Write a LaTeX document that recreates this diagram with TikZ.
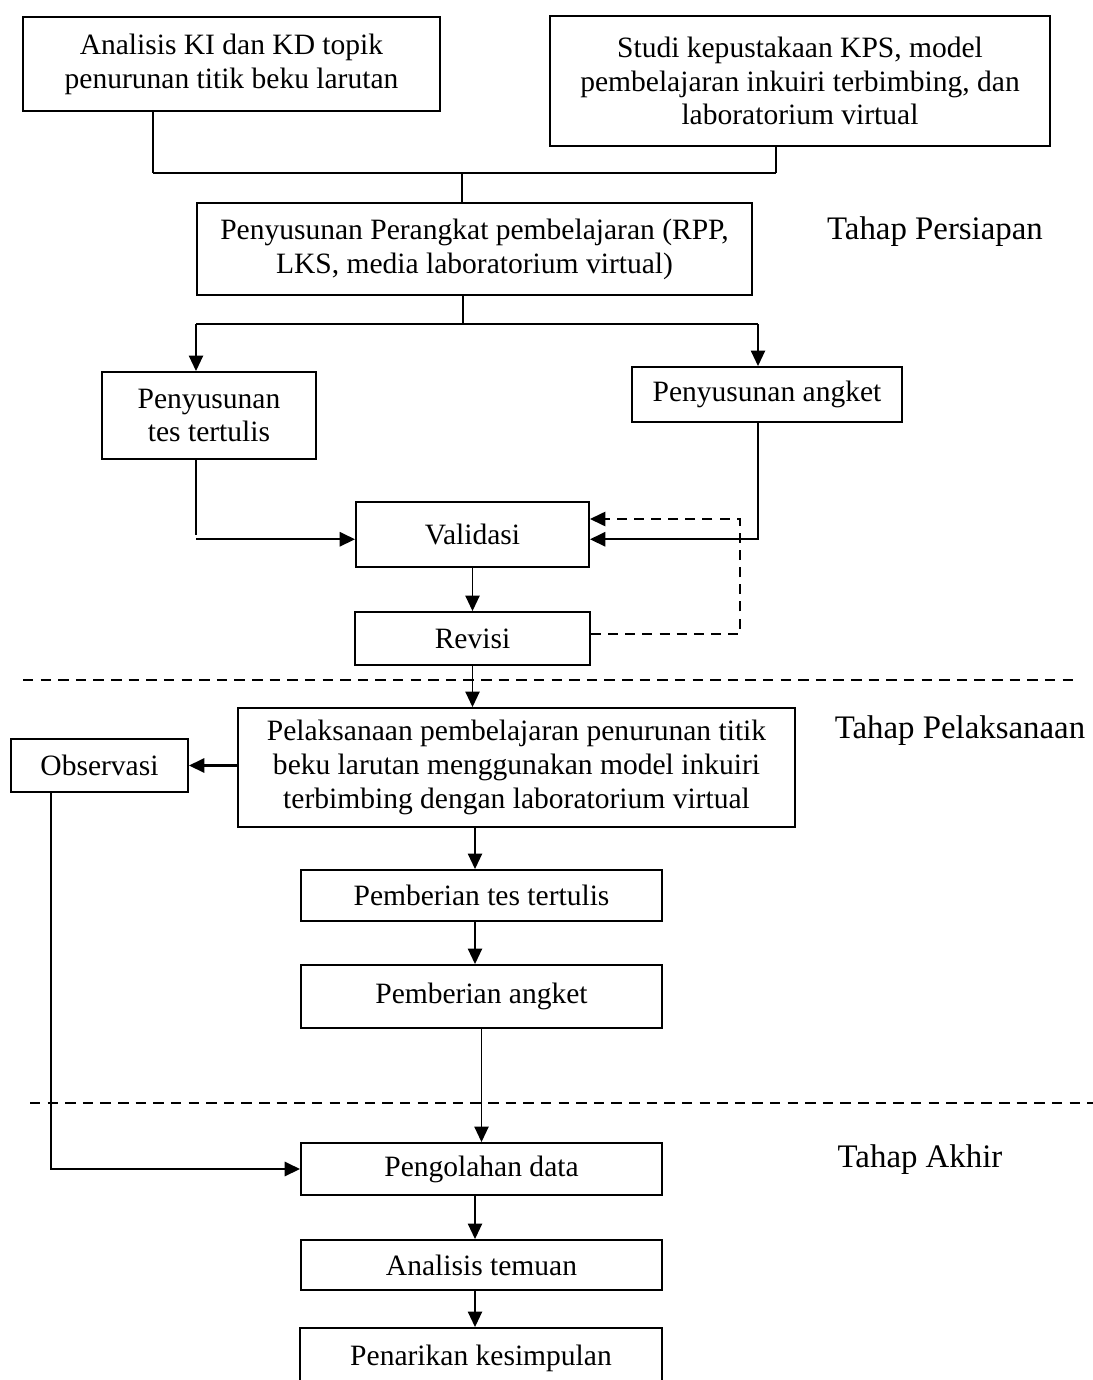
\documentclass[tikz,border=0pt]{standalone}
\usepackage{fontspec}
\setmainfont{Liberation Serif}
\usetikzlibrary{arrows.meta}
\tikzset{
  kotak/.style={draw, line width=.8pt, align=center, inner sep=0pt,
    font=\fontsize{12.4}{14.2}\selectfont},
  ukuran/.style 2 args={minimum width=#1*0.42pt, minimum height=#2*0.42pt},
  garis/.style={line width=.6pt},
  panah/.style={garis, -{Triangle[width=6pt,length=6.5pt]}},
  panahtebal/.style={panah, line width=1pt},
  putus/.style={panah, line width=.9pt, dash pattern=on 4.2pt off 3pt},
  batas/.style={line width=.8pt, dash pattern=on 4.4pt off 3pt},
  tahap/.style={font=\fontsize{13.8}{16}\selectfont, inner sep=0pt},
}

\begin{document}
\begin{tikzpicture}[x=0.42pt,y=-0.42pt]
  \useasboundingbox (0,0) rectangle (1093,1380);

  % Tahap persiapan.
  \node[kotak, ukuran={417}{94}] (analisis) at (231.5,64)
    {Analisis KI dan KD topik\\penurunan titik beku larutan};
  \node[kotak, ukuran={500}{130}] (studi) at (800,81)
    {Studi kepustakaan KPS, model\\pembelajaran inkuiri terbimbing, dan\\laboratorium virtual};
  \node[kotak, ukuran={555}{92}] (perangkat) at (474.5,249)
    {Penyusunan Perangkat pembelajaran (RPP,\\LKS, media laboratorium virtual)};
  \node[kotak, ukuran={214}{87}] (tes) at (209,415.5)
    {Penyusunan\\tes tertulis};
  \node[kotak, ukuran={270}{55}] (angket) at (767,394.5) {Penyusunan angket};
  \node[kotak, ukuran={233}{65}] (validasi) at (472.5,534.5) {Validasi};
  \node[kotak, ukuran={235}{53}] (revisi) at (472.5,638.5) {Revisi};

  % Tahap pelaksanaan.
  \node[kotak, ukuran={557}{119}] (pelaksanaan) at (516.5,767.5)
    {Pelaksanaan pembelajaran penurunan titik\\beku larutan menggunakan model inkuiri\\terbimbing dengan laboratorium virtual};
  \node[kotak, ukuran={177}{53}] (observasi) at (99.5,765.5) {Observasi};
  \node[kotak, ukuran={361}{51}] (berites) at (481.5,895.5) {Pemberian tes tertulis};
  \node[kotak, ukuran={361}{63}] (beriangket) at (481.5,996.5) {Pemberian angket};

  % Tahap akhir.
  \node[kotak, ukuran={361}{52}] (olah) at (481.5,1169) {Pengolahan data};
  \node[kotak, ukuran={361}{50}] (temuan) at (481.5,1265) {Analisis temuan};
  \node[kotak, ukuran={362}{60}] (simpulan) at (481,1358) {Penarikan kesimpulan};

  \node[tahap] (persiapan) at (935,232) {Tahap Persiapan};
  \node[tahap] (pelaksanaanlbl) at (960,731) {Tahap Pelaksanaan};
  \node[tahap] (akhir) at (920,1160) {Tahap Akhir};

  % Titik bantu untuk garis penghubung.
  \coordinate (kiri) at (153,173);
  \coordinate (kanan) at (776,173);
  \coordinate (tengah) at (462,173);
  \coordinate (cabkiri) at (196,324);
  \coordinate (cabkanan) at (758,324);
  \coordinate (cabang) at (463,324);
  \coordinate (balik) at (740,519);
  \coordinate (sudut) at (51,0);
  \coordinate (turun) at (475,0);

  \draw[garis] (analisis.south -| kiri) -- (kiri);
  \draw[garis] (studi.south -| kanan) -- (kanan);
  \draw[garis, line width=1pt] (kiri) -- (kanan);
  \draw[garis] (tengah) -- (tengah |- perangkat.north);

  \draw[garis] (perangkat.south -| cabang) -- (cabang);
  \draw[garis] (cabkiri) -- (cabkanan);
  \draw[panah] (cabkiri) -- (cabkiri |- tes.north);
  \draw[panah] (cabkanan) -- (cabkanan |- angket.north);

  \draw[garis] (tes.south -| cabkiri) -- (cabkiri |- validasi.west);
  \draw[panahtebal] ([yshift=-2pt]validasi.west -| cabkiri) -- ([yshift=-2pt]validasi.west);
  \draw[panahtebal] (angket.south -| cabkanan) |- ([yshift=-2pt]validasi.east);
  \draw[putus] ([yshift=2pt]revisi.east) -| (balik) -- (balik -| validasi.east);
  \draw[panah] (validasi.south) -- (revisi.north);

  % Garis pemisah antar tahap.
  \draw[batas] (23,680) -- (1080,680);
  \draw[batas] (30,1103) -- (1093,1103);

  \draw[panah] (revisi.south) -- (revisi.south |- pelaksanaan.north);
  \draw[panahtebal] (pelaksanaan.west |- observasi.east) -- (observasi.east);
  \draw[panah] (pelaksanaan.south -| turun) -- (berites.north -| turun);
  \draw[panah] (berites.south -| turun) -- (beriangket.north -| turun);
  \draw[panah] (beriangket.south) -- (olah.north);
  \draw[panahtebal] (observasi.south -| sudut) |- (olah.west);
  \draw[panah] (olah.south -| turun) -- (temuan.north -| turun);
  \draw[panah] (temuan.south -| turun) -- (simpulan.north -| turun);
\end{tikzpicture}
\end{document}
